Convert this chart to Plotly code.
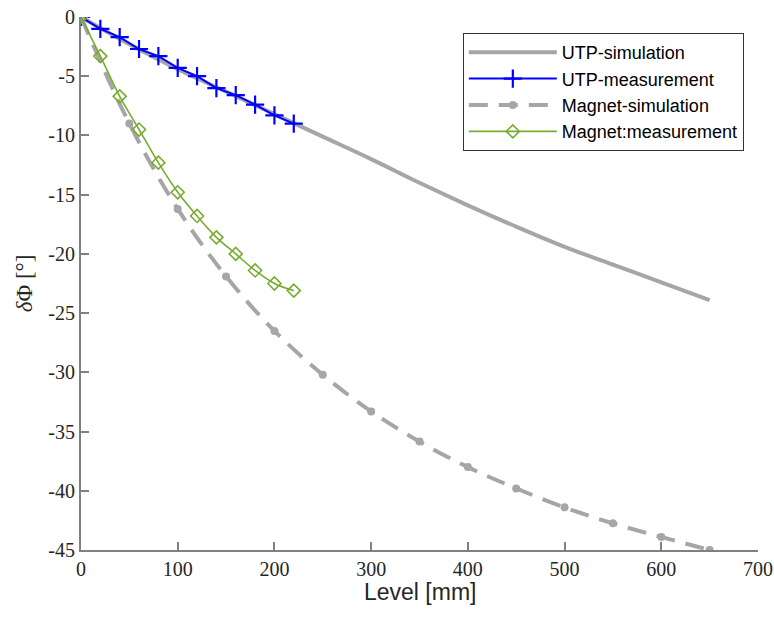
import plotly.graph_objects as go

# ---- data ----
utp_sim_x = [0, 50, 100, 150, 200, 250, 300, 350, 400, 450, 500, 550, 600, 650]
utp_sim_y = [0, -2.3, -4.4, -6.3, -8.2, -10.1, -12.0, -14.0, -15.9, -17.7, -19.4, -20.9, -22.4, -23.9]

utp_meas_x = [0, 20, 40, 60, 80, 100, 120, 140, 160, 180, 200, 220]
utp_meas_y = [0, -1.0, -1.7, -2.7, -3.3, -4.3, -5.0, -6.0, -6.6, -7.4, -8.3, -9.0]

mag_sim_x = [0, 50, 100, 150, 200, 250, 300, 350, 400, 450, 500, 550, 600, 650]
mag_sim_y = [0, -9.0, -16.2, -21.9, -26.5, -30.2, -33.3, -35.85, -38.0, -39.8, -41.4, -42.75, -43.9, -45.0]

mag_meas_x = [0, 20, 40, 60, 80, 100, 120, 140, 160, 180, 200, 220]
mag_meas_y = [0, -3.3, -6.7, -9.5, -12.3, -14.8, -16.8, -18.6, -20.0, -21.4, -22.5, -23.1]

x_ticks = [0, 100, 200, 300, 400, 500, 600, 700]
y_ticks = [0, -5, -10, -15, -20, -25, -30, -35, -40, -45]
y_tick_text = ["0", "-5", "-10", "-15", "-20", "-25", "-30", "-35", "-40", "-45"]

GRAY = "#a6a6a6"
BLUE = "#0000ff"
GREEN = "#77ac30"

fig = go.Figure()
fig.add_trace(go.Scatter(x=utp_sim_x, y=utp_sim_y, mode="lines", name="UTP-simulation",
                         line=dict(color=GRAY, width=4, shape="spline")))
fig.add_trace(go.Scatter(x=utp_meas_x, y=utp_meas_y, mode="lines+markers", name="UTP-measurement",
                         line=dict(color=BLUE, width=2),
                         marker=dict(symbol="cross-thin", size=13, line=dict(color=BLUE, width=2.2))))
fig.add_trace(go.Scatter(x=mag_sim_x, y=mag_sim_y, mode="lines+markers", name="Magnet-simulation",
                         line=dict(color=GRAY, width=4, dash="19px,11px", shape="spline"),
                         marker=dict(symbol="circle", size=8, color=GRAY)))
fig.add_trace(go.Scatter(x=mag_meas_x, y=mag_meas_y, mode="lines+markers", name="Magnet:measurement",
                         line=dict(color=GREEN, width=1.6, shape="spline"),
                         marker=dict(symbol="diamond-open", size=10, color=GREEN, line=dict(color=GREEN, width=1.6))))

tickfont = dict(family="Liberation Serif, Times New Roman", size=20, color="#262626")

fig.update_layout(
    width=774, height=618,
    margin=dict(l=81, r=16, t=17, b=68),
    plot_bgcolor="white", paper_bgcolor="white",
    showlegend=True,
    legend=dict(x=0.564, y=0.97, xanchor="left", yanchor="top",
                bgcolor="white", bordercolor="#333333", borderwidth=1,
                font=dict(family="Liberation Sans, Arial", size=18, color="black"),
                itemwidth=88, tracegroupgap=0, entrywidth=195, entrywidthmode="pixels"),
    xaxis=dict(range=[0, 700], tickvals=x_ticks, ticktext=[str(v) for v in x_ticks],
               automargin=False, ticklabeloverflow="allow",
               showgrid=False, zeroline=False, showline=True, linecolor="#808080", linewidth=2,
               ticks="inside", ticklen=8, tickwidth=1.5, tickcolor="#808080",
               tickfont=tickfont),
    yaxis=dict(range=[-45, 0], tickvals=y_ticks, ticktext=y_tick_text,
               automargin=False, ticklabeloverflow="allow",
               showgrid=False, zeroline=False, showline=True, linecolor="#808080", linewidth=2,
               ticks="inside", ticklen=8, tickwidth=1.5, tickcolor="#808080",
               tickfont=tickfont),
    annotations=[
        dict(text="Level [mm]", xref="paper", yref="paper", x=0.5, y=-0.079,
             xanchor="center", yanchor="middle", showarrow=False,
             font=dict(family="Liberation Sans, Arial", size=23, color="#262626")),
        dict(text="<i>δ</i>Φ [°]", xref="paper", yref="paper", x=-0.083, y=0.5,
             xanchor="center", yanchor="middle", showarrow=False, textangle=-90,
             font=dict(family="Liberation Serif, Times New Roman", size=23, color="#262626")),
    ],
)

# remove the default 8px page margin so the 774x618 figure fills the window exactly
fig.write_html("out.html", config={"displayModeBar": False},
               post_script="document.body.style.margin='0';document.body.style.overflow='hidden';")
